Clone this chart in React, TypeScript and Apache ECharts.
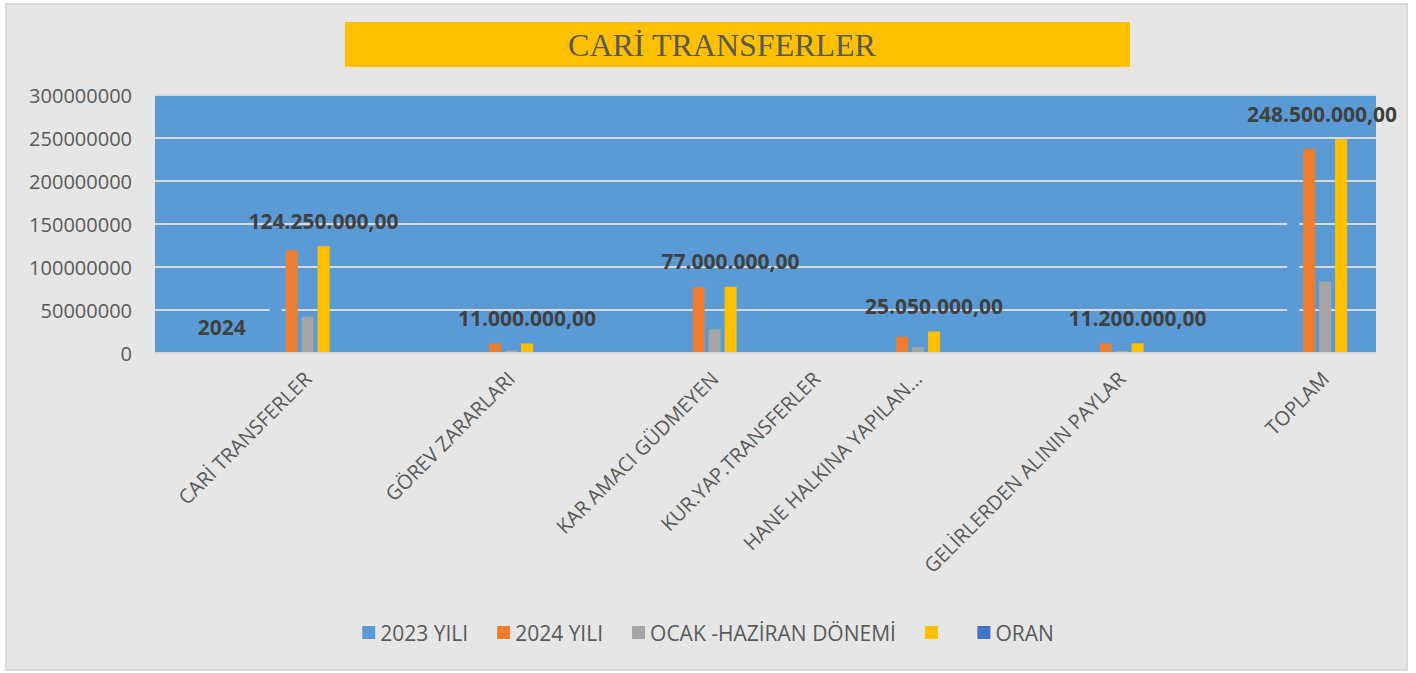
import React, { useEffect, useRef } from "react";
import * as echarts from "echarts";

const categories = [
  "",
  "CARİ TRANSFERLER",
  "",
  "GÖREV ZARARLARI",
  "",
  "KAR AMACI GÜDMEYEN",
  "KUR.YAP.TRANSFERLER",
  "HANE HALKINA YAPILAN...",
  "",
  "GELİRLERDEN ALININ PAYLAR",
  "",
  "TOPLAM",
];

const seriesNames = ["2023 YILI", "2024 YILI", "OCAK -HAZİRAN DÖNEMİ", " ", "ORAN"];

const values2023 = [null, 95000000, null, 9000000, null, 48000000, null, 18000000, null, 9000000, null, 179000000];
const values2024 = [null, 119500000, null, 11000000, null, 76500000, null, 19000000, null, 11000000, null, 237500000];
const valuesOcakHaziran = [null, 42000000, null, 3000000, null, 27500000, null, 7000000, null, 2500000, null, 83000000];
const valuesYellow = [2024, 124250000, null, 11000000, null, 77000000, null, 25050000, null, 11200000, null, 248500000];
const valuesOran = [null, null, null, null, null, null, null, null, null, null, null, null];

const yTicks = { min: 0, max: 300000000, interval: 50000000 };

const colors = ["#5b9bd5", "#ed7d31", "#a5a5a5", "#ffc000", "#4472c4"];

function formatTR(v: number): string {
  if (v < 10000) return String(v);
  const [i, d] = v.toFixed(2).split(".");
  const grouped = i.replace(/\B(?=(\d{3})+(?!\d))/g, ".");
  return grouped + "," + d;
}

const FONT = "'Open Sans', 'Noto Sans', sans-serif";

export default function App() {
  const ref = useRef<HTMLDivElement>(null);

  useEffect(() => {
    if (!ref.current) return;
    const chart = echarts.init(ref.current, undefined, { renderer: "svg" });

    const yellowData = valuesYellow.map((v, i) =>
      i === valuesYellow.length - 1 && v != null
        ? { value: v, label: { offset: [-19, 0] } }
        : v
    );

    const allValues = [values2023, values2024, valuesOcakHaziran, yellowData, valuesOran];

    const series = seriesNames.map((name, idx) => ({
      name,
      type: "bar",
      data: allValues[idx],
      barWidth: 12,
      barGap: "33%",
      itemStyle: { color: colors[idx] },
      label:
        idx === 3
          ? {
              show: true,
              position: "top",
              distance: 15,
              fontSize: 21,
              fontWeight: "bold",
              fontFamily: FONT,
              color: "#404040",
              formatter: (p: any) => (p.value == null ? "" : formatTR(p.value as number)),
            }
          : { show: false },
    }));

    chart.setOption({
      animation: false,
      backgroundColor: "#ffffff",
      textStyle: { fontFamily: FONT },
      graphic: [
        {
          type: "rect",
          z: -10,
          shape: { x: 6, y: 4, width: 1401, height: 666 },
          style: { fill: "#e6e6e6", stroke: "#d9d9d9", lineWidth: 2 },
        },
        {
          type: "rect",
          z: 1,
          shape: { x: 345, y: 22, width: 785, height: 45 },
          style: { fill: "#ffc000" },
        },
        {
          type: "text",
          z: 2,
          x: 722,
          y: 45,
          style: {
            text: "CARİ TRANSFERLER",
            fill: "#595959",
            font: "32px 'Liberation Serif', 'DejaVu Serif', serif",
            textAlign: "center",
            textVerticalAlign: "middle",
          },
        },
      ],
      legend: {
        data: seriesNames,
        top: 617,
        left: "center",
        icon: "rect",
        itemWidth: 13,
        itemHeight: 13,
        itemGap: 29,
        textStyle: { fontSize: 21, color: "#595959", fontFamily: FONT },
      },
      grid: {
        left: 155,
        right: 40,
        top: 95,
        bottom: 320,
        show: true,
        backgroundColor: "#5b9bd5",
        borderWidth: 0,
        containLabel: false,
      },
      xAxis: {
        type: "category",
        data: categories,
        z: 5,
        axisLine: { show: true, lineStyle: { color: "#d9d9d9", width: 2 } },
        axisTick: { show: false },
        axisLabel: {
          interval: 0,
          rotate: 45,
          margin: 22,
          fontSize: 20,
          color: "#595959",
          fontFamily: FONT,
        },
      },
      yAxis: {
        type: "value",
        min: yTicks.min,
        max: yTicks.max,
        interval: yTicks.interval,
        axisLine: { show: false },
        axisTick: { show: false },
        splitLine: { show: true, lineStyle: { color: "#d9d9d9", width: 2 } },
        axisLabel: {
          margin: 23,
          fontSize: 20,
          color: "#595959",
          fontFamily: FONT,
          formatter: (v: number) => String(v),
        },
      },
      series,
    });

    return () => chart.dispose();
  }, []);

  return (
    <div
      ref={ref}
      style={{ position: "fixed", left: 0, top: 0, width: 1416, height: 673 }}
    />
  );
}
